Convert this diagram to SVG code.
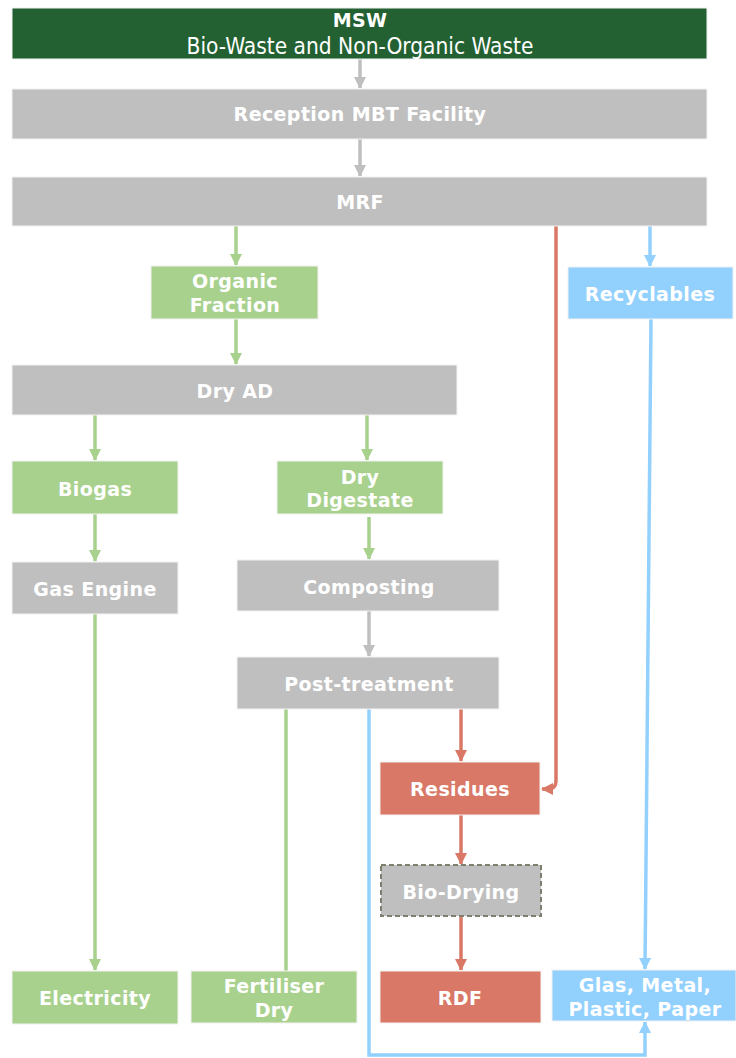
<svg xmlns="http://www.w3.org/2000/svg" width="736" height="1058" viewBox="0 0 736 1058">
<defs>
<style>
.box{stroke:#f2f2f2;stroke-width:1}
.gray{fill:#bfbfbf}
.green{fill:#a9d18e}
.dark{fill:#236132}
.red{fill:#d97866}
.blue{fill:#92d0fe}
.t{font-family:"DejaVu Sans",Verdana,sans-serif;font-weight:bold;font-size:19px;letter-spacing:0.4px;fill:#ffffff;text-anchor:middle;dominant-baseline:central}
.sub{font-family:"DejaVu Sans Condensed","DejaVu Sans",sans-serif;font-stretch:condensed;font-size:22.5px;fill:#ffffff;text-anchor:middle;dominant-baseline:central}
.c{fill:none;stroke-width:3.5}
.cg{stroke:#bfbfbf}
.cgr{stroke:#a9d18e}
.cr{stroke:#d97866}
.cb{stroke:#92d0fe}
</style>
<marker id="ag" markerWidth="12" markerHeight="12" refX="11" refY="6" orient="auto" markerUnits="userSpaceOnUse"><path d="M0,0 L12,6 L0,12 z" fill="#bfbfbf"/></marker>
<marker id="agr" markerWidth="12" markerHeight="12" refX="11" refY="6" orient="auto" markerUnits="userSpaceOnUse"><path d="M0,0 L12,6 L0,12 z" fill="#a9d18e"/></marker>
<marker id="ar" markerWidth="12" markerHeight="12" refX="11" refY="6" orient="auto" markerUnits="userSpaceOnUse"><path d="M0,0 L12,6 L0,12 z" fill="#d97866"/></marker>
<marker id="ab" markerWidth="12" markerHeight="12" refX="11" refY="6" orient="auto" markerUnits="userSpaceOnUse"><path d="M0,0 L12,6 L0,12 z" fill="#92d0fe"/></marker>
</defs>
<rect width="736" height="1058" fill="#ffffff"/>
<g id="connectors">
<path class="c cg" d="M360,59 V88" marker-end="url(#ag)"/>
<path class="c cg" d="M360,139 V176" marker-end="url(#ag)"/>
<path class="c cgr" d="M236,226 V265" marker-end="url(#agr)"/>
<path class="c cgr" d="M236,319 V364" marker-end="url(#agr)"/>
<path class="c cb" d="M650,226 V266" marker-end="url(#ab)"/>
<path class="c cr" d="M556,226 V781 Q556,789 548,789 H542" marker-end="url(#ar)"/>
<path class="c cgr" d="M95,415 V460" marker-end="url(#agr)"/>
<path class="c cgr" d="M367,415 V460" marker-end="url(#agr)"/>
<path class="c cgr" d="M95,514 V561" marker-end="url(#agr)"/>
<path class="c cgr" d="M369,517 V559" marker-end="url(#agr)"/>
<path class="c cg" d="M369,611 V656" marker-end="url(#ag)"/>
<path class="c cgr" d="M95,614 V970" marker-end="url(#agr)"/>
<path class="c cgr" d="M286,709 V971"/>
<path class="c cr" d="M461,709 V761" marker-end="url(#ar)"/>
<path class="c cr" d="M461,815 V864" marker-end="url(#ar)"/>
<path class="c cr" d="M461,916 V970" marker-end="url(#ar)"/>
<path class="c cb" d="M651,319 L645,969" marker-end="url(#ab)"/>
<path class="c cb" d="M369,709 V1055 H645 V1022" marker-end="url(#ab)"/>
</g>
<g id="msw"><rect class="box dark" x="12" y="8" width="695" height="51"/><text class="t" x="360" y="20">MSW</text><text class="sub" x="360" y="46">Bio-Waste and Non-Organic Waste</text></g>
<g id="reception"><rect class="box gray" x="12" y="89" width="695" height="50"/><text class="t" x="360" y="114">Reception MBT Facility</text></g>
<g id="mrf"><rect class="box gray" x="12" y="177" width="695" height="49"/><text class="t" x="360" y="202">MRF</text></g>
<g id="organic"><rect class="box green" x="151" y="266" width="167" height="53"/><text class="t" x="235" y="281">Organic</text><text class="t" x="235" y="305">Fraction</text></g>
<g id="recyclables"><rect class="box blue" x="568" y="267" width="165" height="52"/><text class="t" x="650" y="294">Recyclables</text></g>
<g id="dryad"><rect class="box gray" x="12" y="365" width="445" height="50"/><text class="t" x="235" y="391">Dry AD</text></g>
<g id="biogas"><rect class="box green" x="12" y="461" width="166" height="53"/><text class="t" x="95" y="489">Biogas</text></g>
<g id="drydigestate"><rect class="box green" x="277" y="461" width="166" height="53"/><text class="t" x="360" y="477">Dry</text><text class="t" x="360" y="500">Digestate</text></g>
<g id="gasengine"><rect class="box gray" x="12" y="562" width="166" height="52"/><text class="t" x="95" y="589">Gas Engine</text></g>
<g id="composting"><rect class="box gray" x="237" y="560" width="262" height="51"/><text class="t" x="369" y="587">Composting</text></g>
<g id="posttreatment"><rect class="box gray" x="237" y="657" width="262" height="52"/><text class="t" x="369" y="684">Post-treatment</text></g>
<g id="residues"><rect class="box red" x="380" y="762" width="160" height="53"/><text class="t" x="460" y="789">Residues</text></g>
<g id="biodrying"><rect x="381" y="865" width="160" height="51" fill="#bfbfbf" stroke="#7f7f6f" stroke-width="2" stroke-dasharray="5,3"/><text class="t" x="461" y="892">Bio-Drying</text></g>
<g id="electricity"><rect class="box green" x="12" y="971" width="166" height="53"/><text class="t" x="95" y="998">Electricity</text></g>
<g id="fertiliser"><rect class="box green" x="191" y="971" width="166" height="52"/><text class="t" x="274" y="986">Fertiliser</text><text class="t" x="274" y="1010">Dry</text></g>
<g id="rdf"><rect class="box red" x="380" y="971" width="161" height="52"/><text class="t" x="460" y="998">RDF</text></g>
<g id="glas"><rect class="box blue" x="552" y="970" width="184" height="51"/><text class="t" x="645" y="985">Glas, Metal,</text><text class="t" x="645" y="1009">Plastic, Paper</text></g>
</svg>
